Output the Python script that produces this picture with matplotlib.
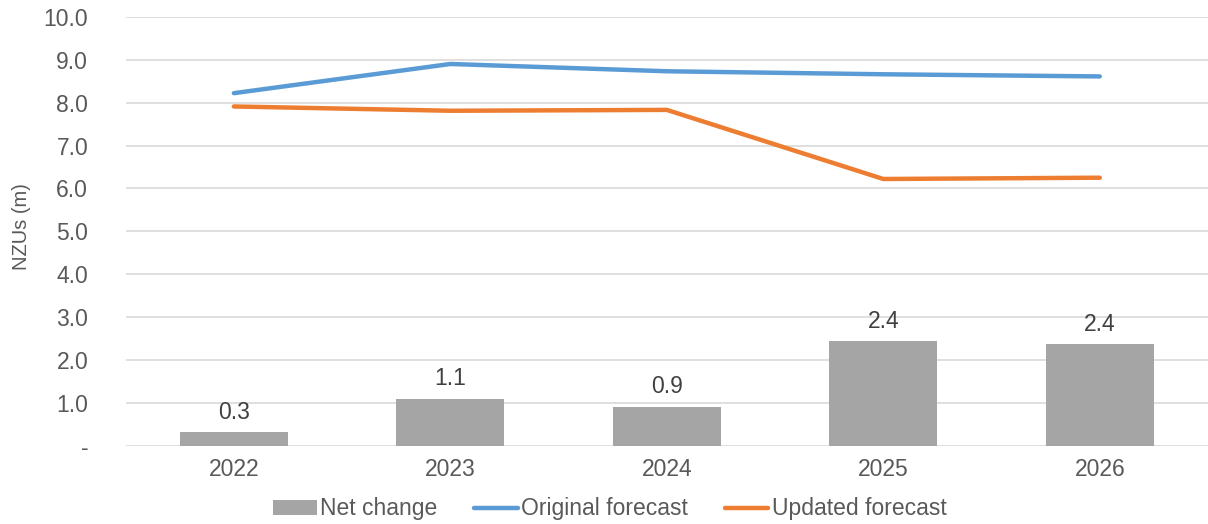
import numpy as np
import matplotlib.pyplot as plt

plt.rcParams['font.family'] = ['Liberation Sans', 'DejaVu Sans']

years = ['2022', '2023', '2024', '2025', '2026']
net_change = [0.32, 1.10, 0.91, 2.44, 2.37]
original_forecast = [8.22, 8.90, 8.73, 8.66, 8.61]
updated_forecast = [7.91, 7.81, 7.83, 6.22, 6.25]
y_ticks = [0, 1, 2, 3, 4, 5, 6, 7, 8, 9, 10]
y_tick_labels = ['-'] + ['%.1f' % v for v in y_ticks[1:]]

text_col = '#595959'
fs = 16.5
x = np.arange(len(years))

fig = plt.figure(figsize=(12.08, 5.24), dpi=100)
ax = fig.add_axes([0.104, 0.149, 0.896, 0.819])

bars = ax.bar(x, net_change, width=0.5, color='#a5a5a5', label='Net change', zorder=2)
l1, = ax.plot(x, original_forecast, color='#5b9bd5', lw=3.2, solid_capstyle='round',
              label='Original forecast', zorder=3)
l2, = ax.plot(x, updated_forecast, color='#ed7d31', lw=3.2, solid_capstyle='round',
              label='Updated forecast', zorder=3)

for xi, v in zip(x, net_change):
    ax.text(xi, v + 0.2, '%.1f' % v, ha='center', va='bottom',
            fontsize=fs, color='#404040')

ax.set_xlim(-0.5, len(years) - 0.5)
ax.set_ylim(0, 10)
ax.set_yticks(y_ticks)
ax.set_yticklabels(y_tick_labels)
ax.set_xticks(x)
ax.set_xticklabels(years)
ax.tick_params(axis='both', length=0, labelsize=fs, labelcolor=text_col)
ax.tick_params(axis='y', pad=27)
ax.tick_params(axis='x', pad=9)
ax.grid(axis='y', color='#d9d9d9', lw=1.2, zorder=0)
ax.set_axisbelow(True)
for s in ax.spines.values():
    s.set_visible(False)

ax.set_ylabel('NZUs (m)', fontsize=14.5, color=text_col)
ax.yaxis.set_label_coords(-0.087, 0.51)

fig.legend([bars, l1, l2], ['Net change', 'Original forecast', 'Updated forecast'],
           loc='center', bbox_to_anchor=(610 / 1208, 1 - 509 / 524), ncol=3,
           frameon=False, fontsize=fs, labelcolor=text_col, handlelength=1.9,
           handletextpad=0.15, columnspacing=1.6, handleheight=0.6)

fig.savefig('out.png', dpi=100)
